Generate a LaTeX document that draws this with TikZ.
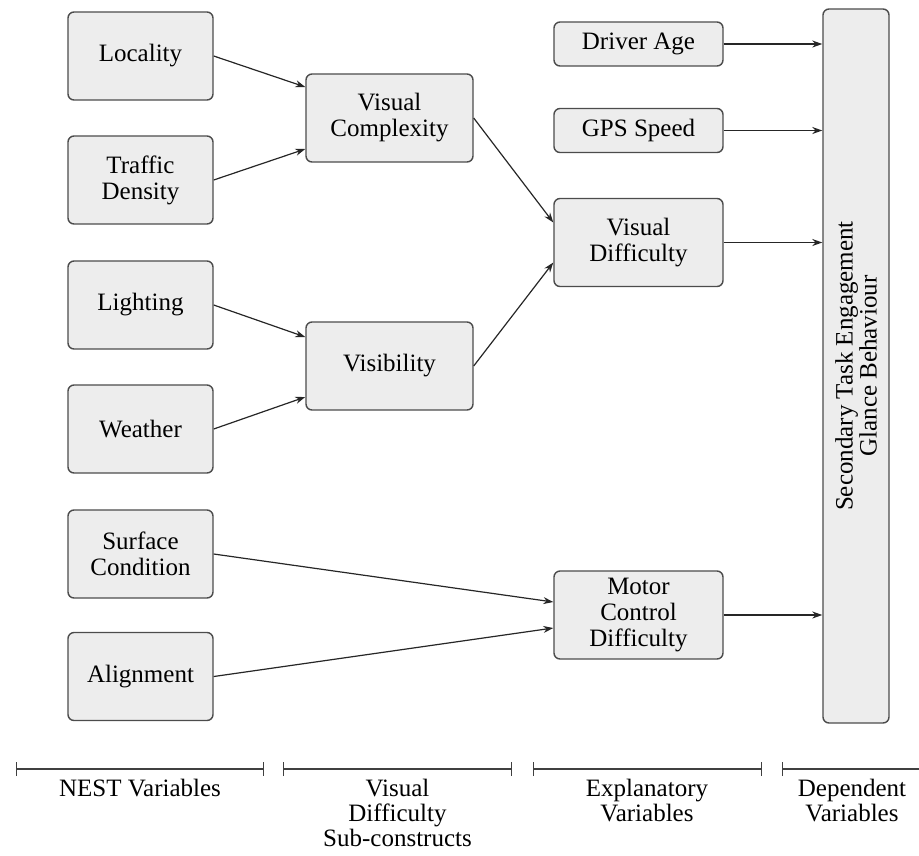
\documentclass[tikz,border=0pt]{standalone}
\usepackage{fontspec}
\setmainfont{Liberation Serif}
\usetikzlibrary{arrows.meta}
\begin{document}
\begin{tikzpicture}[x=1pt,y=-1pt,
  box/.style={draw=black!70, fill=black!7, line width=1.4pt, rounded corners=6pt, align=center, font=\fontsize{25}{26}\selectfont, inner sep=2pt},
  nest/.style={box, minimum width=145pt, minimum height=88pt},
  sub/.style={box, minimum width=167pt, minimum height=88pt},
  expl/.style={box, minimum width=169pt, minimum height=88pt},
  explsm/.style={box, minimum width=169pt, minimum height=44pt},
  link/.style={-{Stealth[length=10pt,width=7pt]}, line width=1.2pt, black!85},
  bar/.style={line width=1.3pt, black!75},
  lab/.style={anchor=north, inner sep=0pt, align=center, font=\fontsize{25}{25}\selectfont}]
\useasboundingbox (0,0) rectangle (919,855);
% NEST variables
\node[nest] (loc) at (140.5,56) {Locality};
\node[nest] (traf) at (140.5,180) {Traffic\\Density};
\node[nest] (light) at (140.5,305) {Lighting};
\node[nest] (weath) at (140.5,429) {Weather};
\node[nest] (surf) at (140.5,554) {Surface\\Condition};
\node[nest] (align) at (140.5,676.5) {Alignment};
% sub-constructs
\node[sub] (vc) at (389.5,118) {Visual\\Complexity};
\node[sub] (vis) at (389.5,366) {Visibility};
% explanatory
\node[explsm] (age) at (638.5,44) {Driver Age};
\node[explsm] (gps) at (638.5,130.5) {GPS Speed};
\node[expl] (vd) at (638.5,242.5) {Visual\\Difficulty};
\node[expl] (mcd) at (638.5,615) {Motor\\Control\\Difficulty};
% dependent
\node[box, minimum width=66pt, minimum height=714pt] (dep) at (856,366) {};
\node[rotate=90, align=center, font=\fontsize{25}{24}\selectfont, inner sep=0pt] (deptext) at (dep.center) {Secondary Task Engagement\\Glance Behaviour};
% connectors
\draw[link] (loc.east) -- ([yshift=31pt]vc.west);
\draw[link] (traf.east) -- ([yshift=-31pt]vc.west);
\draw[link] (light.east) -- ([yshift=29pt]vis.west);
\draw[link] (weath.east) -- ([yshift=-31pt]vis.west);
\draw[link] (vc.east) -- ([yshift=20pt]vd.west);
\draw[link] (vis.east) -- ([yshift=-20pt]vd.west);
\draw[link] (surf.east) -- ([yshift=13pt]mcd.west);
\draw[link] (align.east) -- ([yshift=-13pt]mcd.west);
\draw[link] (age.east) -- (age.east -| dep.west);
\draw[link] (gps.east) -- (gps.east -| dep.west);
\draw[link] (vd.east) -- (vd.east -| dep.west);
\draw[link] (mcd.east) -- (mcd.east -| dep.west);
% bars
\coordinate (b1a) at (16,769); \coordinate (b1b) at (264,769);
\coordinate (b2a) at (283,769); \coordinate (b2b) at (512,769);
\coordinate (b3a) at (533,769); \coordinate (b3b) at (762,769);
\coordinate (b4a) at (782,769); \coordinate (b4b) at (919,769);
\draw[bar, {Bar[width=14pt]}-{Bar[width=14pt]}] (b1a) -- (b1b);
\draw[bar, {Bar[width=14pt]}-{Bar[width=14pt]}] (b2a) -- (b2b);
\draw[bar, {Bar[width=14pt]}-{Bar[width=14pt]}] (b3a) -- (b3b);
\draw[bar, {Bar[width=14pt]}-] (b4a) -- (b4b);
\node[lab] (l1) at (140,779) {NEST Variables};
\node[lab] (l2) at (397.5,779) {Visual\\Difficulty\\Sub-constructs};
\node[lab] (l3) at (647,779) {Explanatory\\Variables};
\node[lab] (l4) at (852,779) {Dependent\\Variables};
\end{tikzpicture}
\end{document}
